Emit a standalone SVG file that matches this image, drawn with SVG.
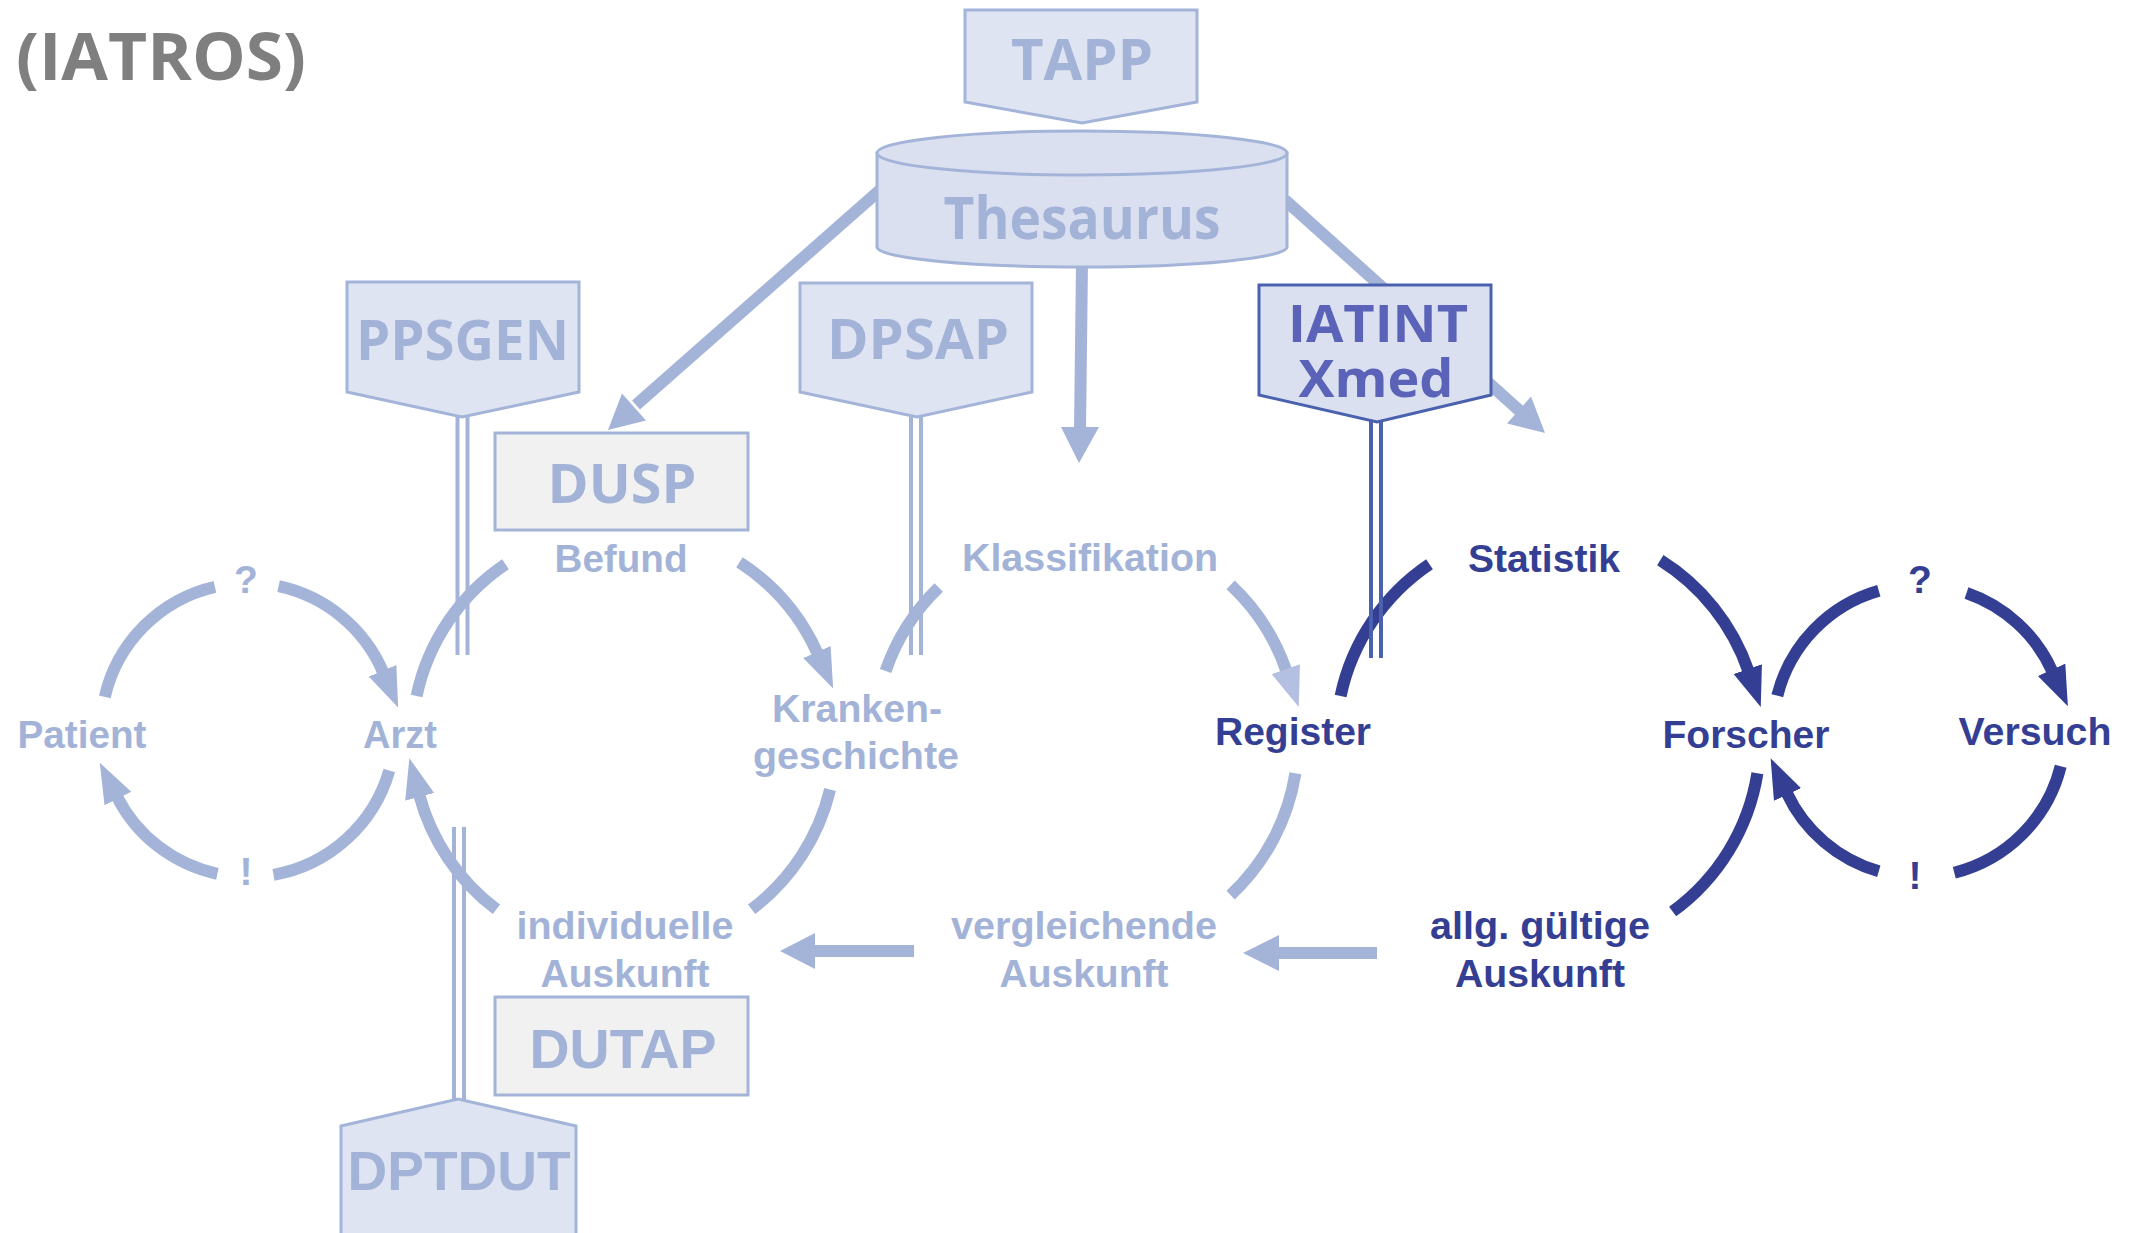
<svg xmlns="http://www.w3.org/2000/svg" width="2132" height="1233" viewBox="0 0 2132 1233">
  <style>
    .box { fill: #dfe4f2; stroke: #a4b4d9; stroke-width: 3; }
    .grey { fill: #f1f1f1; stroke: #a4b4d9; stroke-width: 3; }
    .boxt { font-family: "Open Sans", "Liberation Sans", sans-serif; font-weight: 700; fill: #a3b3d8; text-anchor: middle; }
    .boxa { font-family: "Liberation Sans", Arial, sans-serif; font-weight: 700; fill: #a3b3d8; text-anchor: middle; }
    .lbl { font-family: "Liberation Sans", Arial, sans-serif; font-weight: 700; font-size: 39px; text-anchor: middle; }
    .lt { fill: #a3b3d8; }
    .dk { fill: #343f94; }
    .arc { fill: none; stroke-width: 12; }
    .arcl { stroke: #a4b4d9; }
    .arcd { stroke: #343f94; }
    .dbl { fill: none; stroke: #a4b4d9; stroke-width: 4; }
    .dbld { fill: none; stroke: #4a62ae; stroke-width: 4; }
    .shaft { fill: none; stroke: #a4b4d9; stroke-width: 12; }
    .head { fill: #a4b4d9; }
  </style>
  <defs>
    <marker id="hl" markerUnits="userSpaceOnUse" markerWidth="44" markerHeight="34" refX="2" refY="16" orient="auto">
      <path d="M0,1 L40,16 L0,31 Z" fill="#a4b4d9"/>
    </marker>
    <marker id="hp" markerUnits="userSpaceOnUse" markerWidth="44" markerHeight="34" refX="2" refY="16" orient="auto">
      <path d="M0,1 L40,16 L0,31 Z" fill="#b4c0e1"/>
    </marker>
    <marker id="hd" markerUnits="userSpaceOnUse" markerWidth="44" markerHeight="34" refX="2" refY="16" orient="auto">
      <path d="M0,1 L40,16 L0,31 Z" fill="#343f94"/>
    </marker>
  </defs>

  <rect width="2132" height="1233" fill="#ffffff"/>

  <!-- title -->
  <text x="16" y="80" font-family="'Open Sans', 'Liberation Sans', sans-serif" font-weight="700" font-size="67" fill="#7f7f7f" textLength="290" lengthAdjust="spacingAndGlyphs">(IATROS)</text>

  <!-- thesaurus feed lines (drawn beneath the nodes) -->
  <g id="feeds">
    <line class="shaft" x1="880" y1="190" x2="636" y2="405"/>
    <polygon class="head" points="646,420.5 622,393.5 608,430"/>
    <line class="shaft" x1="1285" y1="200" x2="1521" y2="412"/>
    <polygon class="head" points="1507,423.5 1531,396.5 1545,433"/>
    <line class="shaft" x1="1082" y1="262" x2="1080" y2="430"/>
    <polygon class="head" points="1061,427 1099,427 1079,463"/>
  </g>

  <!-- nodes -->
  <g id="tapp">
    <polygon class="box" points="965,10 1197,10 1197,102 1082,123 965,102"/>
    <text class="boxt" x="1082" y="80" font-size="57" textLength="142" lengthAdjust="spacingAndGlyphs">TAPP</text>
  </g>
  <g id="thesaurus">
    <path d="M877,153 L877,247 A205,20 0 0 0 1287,247 L1287,153 Z" fill="#dbe0f0" stroke="#a4b4d9" stroke-width="3"/>
    <ellipse cx="1082" cy="153" rx="205" ry="22" fill="#dbe0f0" stroke="#a4b4d9" stroke-width="3"/>
    <text class="boxt" x="1082" y="239" font-size="59" textLength="277" lengthAdjust="spacingAndGlyphs">Thesaurus</text>
  </g>
  <g id="ppsgen">
    <polygon class="box" points="347,282 579,282 579,392 462,417 347,392"/>
    <text class="boxt" x="462.5" y="360" font-size="56" textLength="213" lengthAdjust="spacingAndGlyphs">PPSGEN</text>
  </g>
  <g id="dpsap">
    <polygon class="box" points="800,283 1032,283 1032,392 917,417 800,392"/>
    <text class="boxt" x="918" y="359" font-size="55" textLength="182" lengthAdjust="spacingAndGlyphs">DPSAP</text>
  </g>
  <g id="iatint">
    <polygon points="1259,285 1491,285 1491,395 1377,422 1259,395" fill="#dbe0f0" stroke="#4a62ae" stroke-width="3"/>
    <text class="boxt" x="1378" y="342" font-size="52" style="fill:#5a63b8" textLength="180" lengthAdjust="spacingAndGlyphs">IATINT</text>
    <text class="boxt" x="1376" y="397" font-size="52" style="fill:#5a63b8" textLength="155" lengthAdjust="spacingAndGlyphs">Xmed</text>
  </g>
  <g id="dusp">
    <rect class="grey" x="495" y="433" width="253" height="97"/>
    <text class="boxt" x="622" y="503" font-size="53" textLength="149" lengthAdjust="spacingAndGlyphs">DUSP</text>
  </g>
  <g id="dutap">
    <rect class="grey" x="495" y="997" width="253" height="98"/>
    <text class="boxa" x="623" y="1068" font-size="56" textLength="187" lengthAdjust="spacingAndGlyphs">DUTAP</text>
  </g>
  <g id="dptdut">
    <polygon class="box" points="341,1126 458,1099 576,1126 576,1240 341,1240"/>
    <text class="boxa" x="459" y="1190" font-size="56" textLength="223" lengthAdjust="spacingAndGlyphs">DPTDUT</text>
  </g>

  <!-- cycle connectors -->
  <g id="connectors">
    <!-- Patient / Arzt -->
    <path class="arc arcl" d="M104.8,696.9 A147,147 0 0 1 214.9,586.8"/>
    <path class="arc arcl" d="M278.6,586.2 A147,147 0 0 1 383.3,672.6" marker-end="url(#hl)"/>
    <path class="arc arcl" d="M389.3,770.5 A147,147 0 0 1 273.5,874.8"/>
    <path class="arc arcl" d="M217.4,873.8 A147,147 0 0 1 117.0,796.7" marker-end="url(#hl)"/>

    <!-- Arzt / Befund / Krankengeschichte / individuelle Auskunft -->
    <path class="arc arcl" d="M416.6,695.9 A212,212 0 0 1 505.5,564.3"/>
    <path class="arc arcl" d="M739.5,562.2 A212,212 0 0 1 817.7,653.8" marker-end="url(#hl)"/>
    <path class="arc arcl" d="M830.1,789.5 A212,212 0 0 1 751.6,909.3"/>
    <path class="arc arcl" d="M496.4,909.3 A212,212 0 0 1 419.2,794.9" marker-end="url(#hl)"/>

    <!-- Krankengeschichte / Klassifikation / Register -->
    <path class="arc arcl" d="M885.6,671.0 A212,212 0 0 1 938.7,587.5"/>
    <path class="arc arcl" d="M1230.6,584.9 A212,212 0 0 1 1286.4,671.0" marker-end="url(#hp)"/>
    <path class="arc arcl" d="M1295.4,773.2 A212,212 0 0 1 1230.6,895.1"/>

    <!-- Register / Statistik / Forscher -->
    <path class="arc arcd" d="M1340.6,695.9 A212,212 0 0 1 1429.5,564.3"/>
    <path class="arc arcd" d="M1660.3,560.2 A212,212 0 0 1 1748.4,671.0" marker-end="url(#hd)"/>
    <path class="arc arcd" d="M1757.4,773.2 A212,212 0 0 1 1672.6,911.5"/>

    <!-- Forscher / Versuch -->
    <path class="arc arcd" d="M1777.3,695.7 A146,146 0 0 1 1878.8,590.7"/>
    <path class="arc arcd" d="M1966.5,593.0 A146,146 0 0 1 2052.4,671.6" marker-end="url(#hd)"/>
    <path class="arc arcd" d="M2060.7,766.3 A146,146 0 0 1 1954.3,872.7"/>
    <path class="arc arcd" d="M1878.8,871.3 A146,146 0 0 1 1786.7,792.7" marker-end="url(#hd)"/>

    <!-- information flow, right to left -->
    <line class="shaft" x1="914" y1="951" x2="813" y2="951"/>
    <polygon class="head" points="815,933 815,969 780,951"/>
    <line class="shaft" x1="1377" y1="953" x2="1277" y2="953"/>
    <polygon class="head" points="1279,935 1279,971 1243,953"/>

    <!-- program links (double lines) -->
    <line class="dbl" x1="457.5" y1="417" x2="457.5" y2="655"/>
    <line class="dbl" x1="467.5" y1="415" x2="467.5" y2="655"/>
    <line class="dbl" x1="911" y1="417" x2="911" y2="655"/>
    <line class="dbl" x1="921" y1="415" x2="921" y2="655"/>
    <line class="dbld" x1="1371" y1="421" x2="1371" y2="658"/>
    <line class="dbld" x1="1381" y1="421" x2="1381" y2="658"/>
    <line class="dbl" x1="454" y1="827" x2="454" y2="1100"/>
    <line class="dbl" x1="464" y1="827" x2="464" y2="1100"/>
  </g>

  <!-- cycle labels -->
  <g id="labels">
    <text class="lbl lt" x="82" y="748" textLength="129" lengthAdjust="spacingAndGlyphs">Patient</text>
    <text class="lbl lt" x="400" y="748" textLength="74" lengthAdjust="spacingAndGlyphs">Arzt</text>
    <text class="lbl lt" x="246" y="593">?</text>
    <text class="lbl lt" x="246" y="885">!</text>
    <text class="lbl lt" x="621" y="572" textLength="133" lengthAdjust="spacingAndGlyphs">Befund</text>
    <text class="lbl lt" x="857" y="722" textLength="170" lengthAdjust="spacingAndGlyphs">Kranken-</text>
    <text class="lbl lt" x="856" y="769" textLength="206" lengthAdjust="spacingAndGlyphs">geschichte</text>
    <text class="lbl lt" x="625" y="939" textLength="217" lengthAdjust="spacingAndGlyphs">individuelle</text>
    <text class="lbl lt" x="625" y="987" textLength="169" lengthAdjust="spacingAndGlyphs">Auskunft</text>
    <text class="lbl lt" x="1090" y="571" textLength="256" lengthAdjust="spacingAndGlyphs">Klassifikation</text>
    <text class="lbl lt" x="1084" y="939" textLength="266" lengthAdjust="spacingAndGlyphs">vergleichende</text>
    <text class="lbl lt" x="1084" y="987" textLength="169" lengthAdjust="spacingAndGlyphs">Auskunft</text>
    <text class="lbl dk" x="1293" y="745" textLength="156" lengthAdjust="spacingAndGlyphs">Register</text>
    <text class="lbl dk" x="1544" y="572" textLength="152" lengthAdjust="spacingAndGlyphs">Statistik</text>
    <text class="lbl dk" x="1746" y="748" textLength="167" lengthAdjust="spacingAndGlyphs">Forscher</text>
    <text class="lbl dk" x="2035" y="745" textLength="153" lengthAdjust="spacingAndGlyphs">Versuch</text>
    <text class="lbl dk" x="1920" y="593">?</text>
    <text class="lbl dk" x="1915" y="889">!</text>
    <text class="lbl dk" x="1540" y="939" textLength="220" lengthAdjust="spacingAndGlyphs">allg. gültige</text>
    <text class="lbl dk" x="1540" y="987" textLength="170" lengthAdjust="spacingAndGlyphs">Auskunft</text>
  </g>
</svg>
